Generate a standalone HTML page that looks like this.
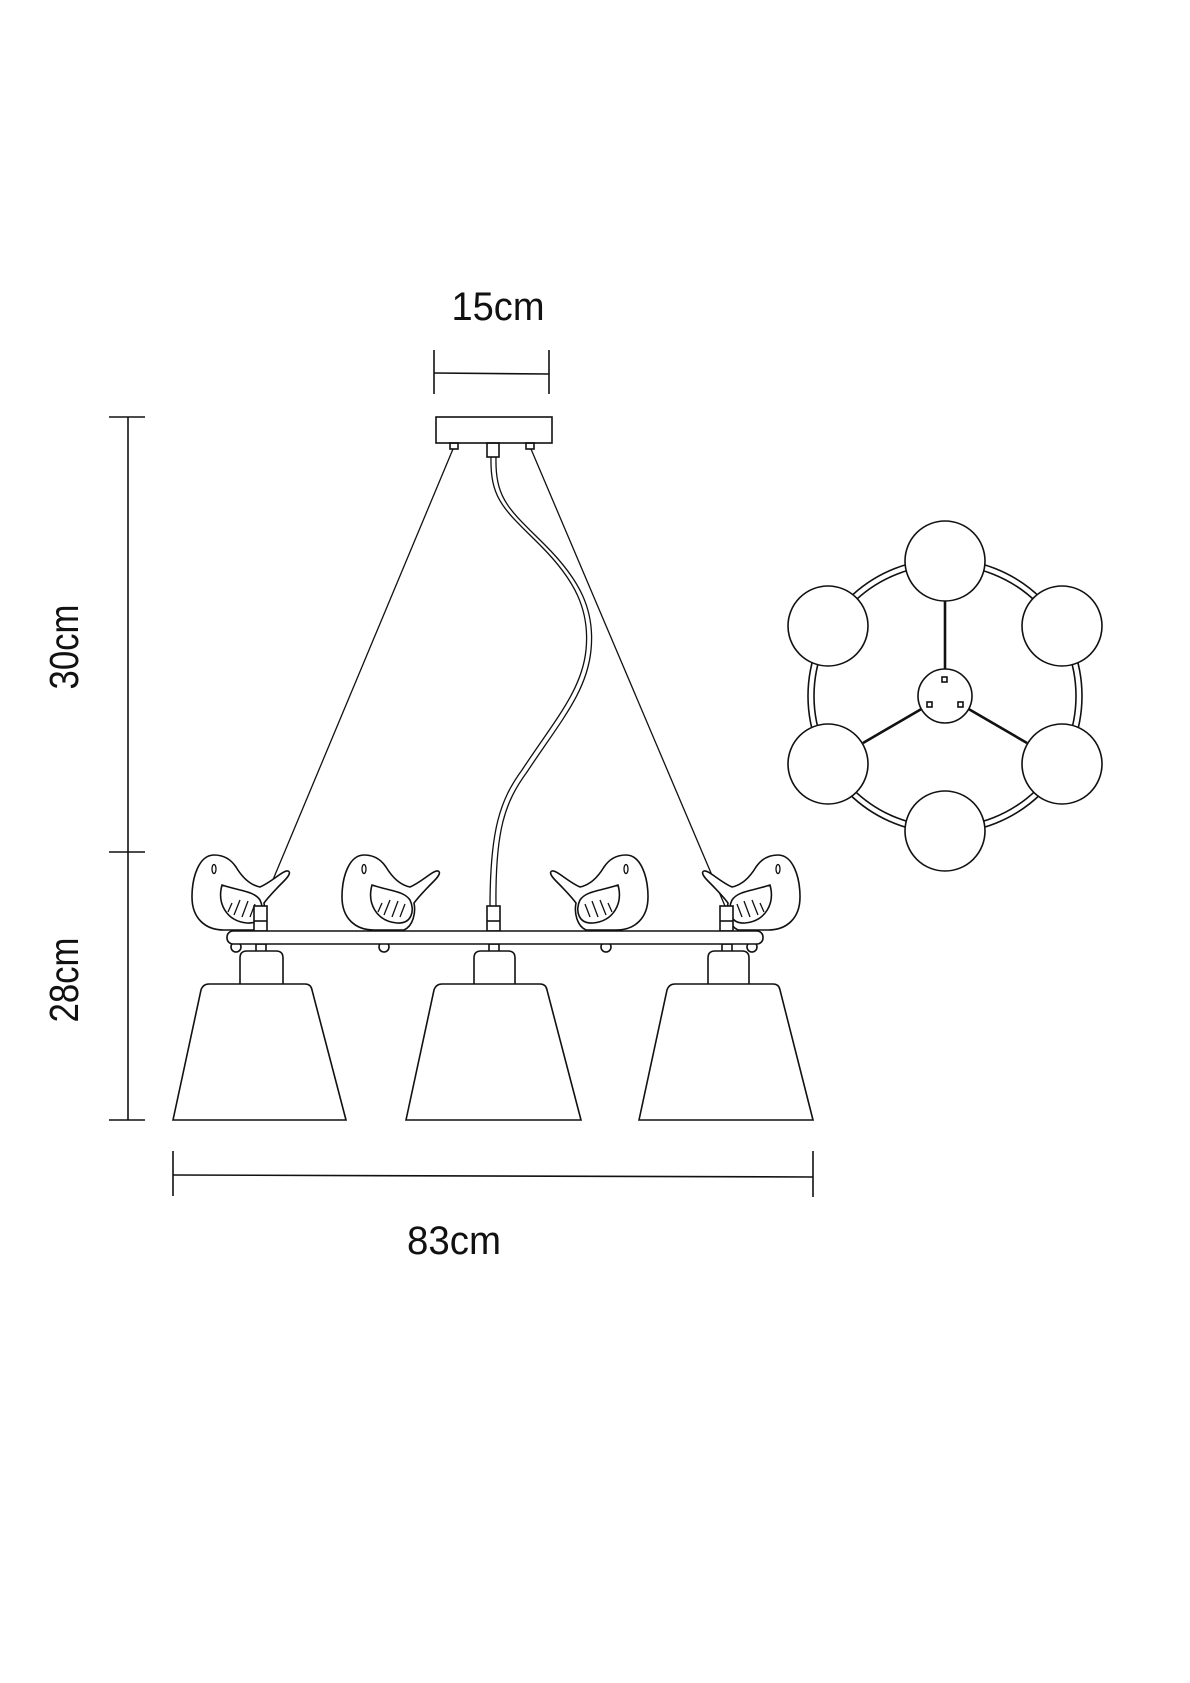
<!DOCTYPE html>
<html><head><meta charset="utf-8"><style>
html,body{margin:0;padding:0;background:#fff;}
svg{display:block;}
text{font-family:"Liberation Sans",sans-serif;fill:#111;}
</style></head><body>
<svg width="1190" height="1683" viewBox="0 0 1190 1683" xmlns="http://www.w3.org/2000/svg">
<defs>
<g id="bird" fill="#fff" stroke="#111" stroke-width="1.6" stroke-linejoin="round">
<path d="M22,0 C7,0 0,22 0,42 C0,63 13,75 32,75 L62,75 C71,71 74,58 72,48 C78,40 86,32 92,26 C97,21 99,17 96,16 C91,15 80,27 68,32 C58,30 50,22 44,12 C38,3 30,0 22,0 Z"/>
<path d="M30,30 C25,48 34,66 55,68 C70,69 73,55 68,45 C62,36 48,36 30,30 Z"/>
<ellipse cx="22" cy="14" rx="2" ry="4.5" stroke-width="1.3"/>
<path d="M40,48 L36,57 M48,45 L42,60 M56,46 L50,62 M63,49 L58,62" fill="none" stroke-width="1.3"/>
</g>
</defs>
<g stroke="#111" fill="none" stroke-width="1.6">
<line x1="434" y1="350" x2="434" y2="394"/>
<line x1="549" y1="350" x2="549" y2="394"/>
<line x1="434" y1="373" x2="549" y2="374"/>
<rect x="436" y="417" width="116" height="26" fill="#fff"/>
<rect x="450" y="443" width="8" height="6"/>
<rect x="526" y="443" width="8" height="6"/>
<rect x="487" y="443" width="12" height="14"/>
<line x1="453" y1="449" x2="262" y2="906" stroke-width="1.3"/>
<line x1="531" y1="449" x2="725" y2="906" stroke-width="1.3"/>
<path d="M491,457 C490,500 505,510 540,545 C575,580 590,610 586,650 C582,690 555,720 522,770 C500,800 490,830 490,907" stroke-width="1.3"/>
<path d="M496,457 C495,500 510,510 545,545 C580,580 595,610 591,650 C587,692 560,722 527,772 C505,802 495,830 496,907" stroke-width="1.3"/>
</g>
<use href="#bird" transform="translate(192,855)"/>
<use href="#bird" transform="translate(342,855)"/>
<use href="#bird" transform="translate(648,855) scale(-1,1)"/>
<use href="#bird" transform="translate(800,855) scale(-1,1)"/>
<g stroke="#111" fill="#fff" stroke-width="1.6">
<rect x="254" y="906" width="13" height="25"/><line x1="254" y1="921" x2="267" y2="921"/>
<rect x="487" y="906" width="13" height="25"/><line x1="487" y1="921" x2="500" y2="921"/>
<rect x="720" y="906" width="13" height="25"/><line x1="720" y1="921" x2="733" y2="921"/>
<rect x="256" y="944" width="10" height="8"/>
<rect x="489" y="944" width="10" height="8"/>
<rect x="722" y="944" width="10" height="8"/>
<circle cx="236" cy="947" r="5"/><circle cx="384" cy="947" r="5"/><circle cx="606" cy="947" r="5"/><circle cx="752" cy="947" r="5"/>
<rect x="227" y="931" width="536" height="13" rx="6"/>
<path d="M240,984 L240,958 Q240,951 247,951 L276,951 Q283,951 283,958 L283,984"/>
<path d="M474,984 L474,958 Q474,951 481,951 L508,951 Q515,951 515,958 L515,984"/>
<path d="M708,984 L708,958 Q708,951 715,951 L742,951 Q749,951 749,958 L749,984"/>
<path d="M173,1120 L201,990 Q203,984 209,984 L305,984 Q311,984 312,990 L346,1120 Z"/>
<path d="M406,1120 L434,990 Q436,984 442,984 L540,984 Q546,984 547,990 L581,1120 Z"/>
<path d="M639,1120 L667,990 Q669,984 675,984 L773,984 Q779,984 780,990 L813,1120 Z"/>
</g>
<g stroke="#111" fill="none" stroke-width="1.6">
<line x1="128" y1="417" x2="128" y2="1120"/>
<line x1="109" y1="417" x2="145" y2="417"/>
<line x1="109" y1="852" x2="145" y2="852"/>
<line x1="109" y1="1120" x2="145" y2="1120"/>
<line x1="173" y1="1151" x2="173" y2="1196"/>
<line x1="813" y1="1151" x2="813" y2="1197"/>
<line x1="173" y1="1175" x2="813" y2="1177"/>
</g>
<text x="498" y="320" font-size="40" text-anchor="middle" textLength="93" lengthAdjust="spacingAndGlyphs">15cm</text>
<text x="454" y="1254" font-size="40" text-anchor="middle" textLength="94" lengthAdjust="spacingAndGlyphs">83cm</text>
<text transform="translate(78,647) rotate(-90)" font-size="41" text-anchor="middle" textLength="85" lengthAdjust="spacingAndGlyphs">30cm</text>
<text transform="translate(78,980) rotate(-90)" font-size="41" text-anchor="middle" textLength="85" lengthAdjust="spacingAndGlyphs">28cm</text>
<g stroke="#111" fill="none" stroke-width="1.6">
<circle cx="945" cy="696" r="137"/>
<circle cx="945" cy="696" r="131"/>
<line x1="945" y1="678" x2="945" y2="601" stroke-width="2.6"/>
<line x1="930" y1="704" x2="863" y2="743" stroke-width="2.6"/>
<line x1="960" y1="704" x2="1027" y2="743" stroke-width="2.6"/>
</g>
<g stroke="#111" fill="#fff" stroke-width="1.6">
<circle cx="945" cy="561" r="40"/>
<circle cx="945" cy="831" r="40"/>
<circle cx="828" cy="626" r="40"/>
<circle cx="828" cy="764" r="40"/>
<circle cx="1062" cy="626" r="40"/>
<circle cx="1062" cy="764" r="40"/>
<circle cx="945" cy="696" r="27"/>
<rect x="942" y="677" width="5" height="5"/>
<rect x="927" y="702" width="5" height="5"/>
<rect x="958" y="702" width="5" height="5"/>
</g>
</svg>
</body></html>
